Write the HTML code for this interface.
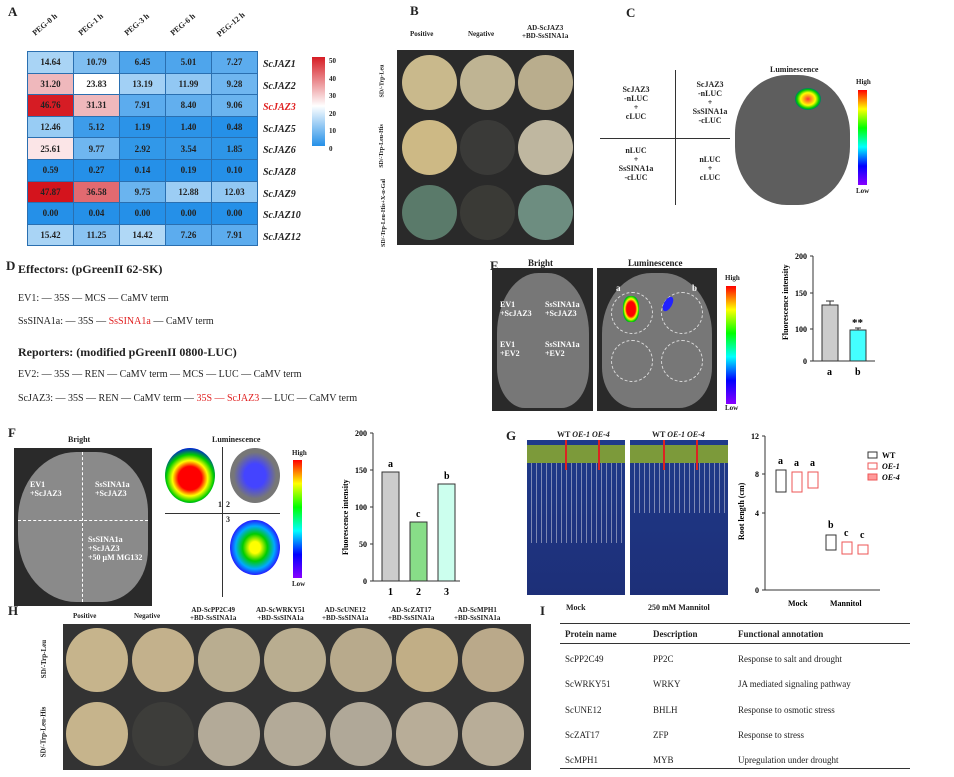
<!DOCTYPE html><html><head><meta charset="utf-8"><style>
body{margin:0;width:954px;height:777px;background:#fff;position:relative;overflow:hidden;font-family:"Liberation Serif",serif;font-weight:bold;color:#222}
div,span{position:absolute}
.L{font-size:13px;font-weight:bold}
.hm td{width:45px;height:20.6px;text-align:center;font-size:9px;border:1px solid #2a6fb0;padding:0}
.t{font-size:10px;white-space:nowrap}
.plate{border-radius:50%;}
.sq{background:#2a2a2a}
</style></head><body>
<span class="L" style="left:8px;top:4px">A</span>
<span class="t" style="left:30px;top:20px;transform:rotate(-40deg);font-size:8px">PEG-0 h</span>
<span class="t" style="left:76px;top:20px;transform:rotate(-40deg);font-size:8px">PEG-1 h</span>
<span class="t" style="left:122px;top:20px;transform:rotate(-40deg);font-size:8px">PEG-3 h</span>
<span class="t" style="left:168px;top:20px;transform:rotate(-40deg);font-size:8px">PEG-6 h</span>
<span class="t" style="left:214px;top:20px;transform:rotate(-40deg);font-size:8px">PEG-12 h</span>
<table class="hm" style="position:absolute;left:27px;top:51px;border-collapse:collapse">
<tr><td style="background:#a9d4f5">14.64</td><td style="background:#7fbef1">10.79</td><td style="background:#4ea5ec">6.45</td><td style="background:#4ea5ec">5.01</td><td style="background:#5cacee">7.27</td></tr>
<tr><td style="background:#efb8bc">31.20</td><td style="background:#fff">23.83</td><td style="background:#a2d0f5">13.19</td><td style="background:#92c8f3">11.99</td><td style="background:#6fb6f0">9.28</td></tr>
<tr><td style="background:#d61c24">46.76</td><td style="background:#efb8bc">31.31</td><td style="background:#5cacee">7.91</td><td style="background:#62afee">8.40</td><td style="background:#6ab4ef">9.06</td></tr>
<tr><td style="background:#98ccf4">12.46</td><td style="background:#3d9cea">5.12</td><td style="background:#2b93e8">1.19</td><td style="background:#2b93e8">1.40</td><td style="background:#2590e8">0.48</td></tr>
<tr><td style="background:#fbe5e7">25.61</td><td style="background:#6fb6f0">9.77</td><td style="background:#3198e9">2.92</td><td style="background:#3499e9">3.54</td><td style="background:#2d95e8">1.85</td></tr>
<tr><td style="background:#2590e8">0.59</td><td style="background:#2590e8">0.27</td><td style="background:#2590e8">0.14</td><td style="background:#2590e8">0.19</td><td style="background:#2590e8">0.10</td></tr>
<tr><td style="background:#d4141d">47.87</td><td style="background:#e26a70">36.58</td><td style="background:#6ab4ef">9.75</td><td style="background:#9ccdf4">12.88</td><td style="background:#92c8f3">12.03</td></tr>
<tr><td style="background:#2590e8">0.00</td><td style="background:#2590e8">0.04</td><td style="background:#2590e8">0.00</td><td style="background:#2590e8">0.00</td><td style="background:#2590e8">0.00</td></tr>
<tr><td style="background:#a9d4f5">15.42</td><td style="background:#8ac3f2">11.25</td><td style="background:#b0d8f6">14.42</td><td style="background:#5cacee">7.26</td><td style="background:#5cacee">7.91</td></tr>
</table>
<div style="left:263px;top:54px;font-style:italic;font-size:10px;line-height:21.6px">ScJAZ1<br>ScJAZ2<br><span style="position:static;color:#e02020">ScJAZ3</span><br>ScJAZ5<br>ScJAZ6<br>ScJAZ8<br>ScJAZ9<br>ScJAZ10<br>ScJAZ12</div>
<div style="left:312px;top:57px;width:13px;height:89px;background:linear-gradient(#d61c24,#fff 55%,#2590e8)"></div>
<div style="left:329px;top:53px;font-size:7px;line-height:17.5px">50<br>40<br>30<br>20<br>10<br>0</div>

<span class="L" style="left:410px;top:3px">B</span>
<span class="t" style="left:410px;top:30px;font-size:7px">Positive</span>
<span class="t" style="left:468px;top:30px;font-size:7px">Negative</span>
<span class="t" style="left:522px;top:24px;font-size:7px;text-align:center">AD-ScJAZ3<br>+BD-SsSINA1a</span>
<div class="sq" style="left:397px;top:50px;width:177px;height:195px"></div>
<div class="plate" style="left:402px;top:55px;width:55px;height:55px;background:#c9b98c"></div>
<div class="plate" style="left:460px;top:55px;width:55px;height:55px;background:#bfb493"></div>
<div class="plate" style="left:518px;top:55px;width:55px;height:55px;background:#b9ad8d"></div>
<div class="plate" style="left:402px;top:120px;width:55px;height:55px;background:#cdb985"></div>
<div class="plate" style="left:460px;top:120px;width:55px;height:55px;background:#3a3a38"></div>
<div class="plate" style="left:518px;top:120px;width:55px;height:55px;background:#bfb7a0"></div>
<div class="plate" style="left:402px;top:185px;width:55px;height:55px;background:#5a7a6a"></div>
<div class="plate" style="left:460px;top:185px;width:55px;height:55px;background:#3a3a36"></div>
<div class="plate" style="left:518px;top:185px;width:55px;height:55px;background:#6d8d80"></div>
<span class="t" style="left:366px;top:78px;font-size:6px;transform:rotate(-90deg)">SD/-Trp-Leu</span>
<span class="t" style="left:360px;top:143px;font-size:6px;transform:rotate(-90deg)">SD/-Trp-Leu-His</span>
<span class="t" style="left:350px;top:210px;font-size:6px;transform:rotate(-90deg)">SD/-Trp-Leu-His+X-α-Gal</span>

<span class="L" style="left:626px;top:5px">C</span>
<div style="left:675px;top:70px;width:1px;height:135px;background:#333"></div>
<div style="left:600px;top:138px;width:130px;height:1px;background:#333"></div>
<div class="t" style="left:600px;top:85px;font-size:8px;text-align:center;width:72px">ScJAZ3<br>-nLUC<br>+<br>cLUC</div>
<div class="t" style="left:680px;top:80px;font-size:8px;text-align:center;width:60px">ScJAZ3<br>-nLUC<br>+<br>SsSINA1a<br>-cLUC</div>
<div class="t" style="left:600px;top:146px;font-size:8px;text-align:center;width:72px">nLUC<br>+<br>SsSINA1a<br>-cLUC</div>
<div class="t" style="left:680px;top:155px;font-size:8px;text-align:center;width:60px">nLUC<br>+<br>cLUC</div>
<span class="t" style="left:770px;top:65px;font-size:8px">Luminescence</span>
<div style="left:735px;top:75px;width:115px;height:130px;border-radius:45%;background:#5e5e5e"></div>
<div style="left:795px;top:88px;width:26px;height:22px;border-radius:50%;background:radial-gradient(#f33,#ff0 40%,#0c0 60%,#00f 85%)"></div>
<div style="left:858px;top:90px;width:9px;height:95px;background:linear-gradient(#f00,#ff0,#0f0,#0ff,#00f,#80f)"></div>
<span class="t" style="left:856px;top:78px;font-size:7px">High</span>
<span class="t" style="left:856px;top:187px;font-size:7px">Low</span>

<span class="L" style="left:6px;top:258px">D</span>
<div class="t" style="left:18px;top:262px;font-size:12px">Effectors: (pGreenII 62-SK)</div>
<div class="t" style="left:18px;top:293px;font-size:10px;font-weight:normal">EV1: — 35S — MCS — CaMV term</div>
<div class="t" style="left:18px;top:316px;font-size:10px;font-weight:normal">SsSINA1a: — 35S — <span style="position:static;color:#e02020">SsSINA1a</span> — CaMV term</div>
<div class="t" style="left:18px;top:345px;font-size:12px">Reporters: (modified pGreenII 0800-LUC)</div>
<div class="t" style="left:18px;top:369px;font-size:10px;font-weight:normal">EV2: — 35S — REN — CaMV term — MCS — LUC — CaMV term</div>
<div class="t" style="left:18px;top:393px;font-size:10px;font-weight:normal">ScJAZ3: — 35S — REN — CaMV term — <span style="position:static;color:#e02020">35S — ScJAZ3</span> — LUC — CaMV term</div>

<span class="L" style="left:490px;top:258px">E</span>
<span class="t" style="left:528px;top:258px;font-size:9px">Bright</span>
<span class="t" style="left:628px;top:258px;font-size:9px">Luminescence</span>
<div class="sq" style="left:492px;top:268px;width:101px;height:143px"></div>
<div class="sq" style="left:597px;top:268px;width:120px;height:143px"></div>
<div style="left:497px;top:273px;width:92px;height:135px;border-radius:45% 45% 30% 30%;background:#777"></div>
<div style="left:602px;top:273px;width:110px;height:135px;border-radius:45% 45% 30% 30%;background:#777"></div>
<div class="t" style="left:500px;top:300px;font-size:8px;color:#fff">EV1<br>+ScJAZ3</div>
<div class="t" style="left:545px;top:300px;font-size:8px;color:#fff">SsSINA1a<br>+ScJAZ3</div>
<div class="t" style="left:500px;top:340px;font-size:8px;color:#fff">EV1<br>+EV2</div>
<div class="t" style="left:545px;top:340px;font-size:8px;color:#fff">SsSINA1a<br>+EV2</div>
<div style="left:611px;top:292px;width:40px;height:40px;border-radius:50%;border:1px dashed #ddd"></div>
<div style="left:661px;top:292px;width:40px;height:40px;border-radius:50%;border:1px dashed #ddd"></div>
<div style="left:611px;top:340px;width:40px;height:40px;border-radius:50%;border:1px dashed #ddd"></div>
<div style="left:661px;top:340px;width:40px;height:40px;border-radius:50%;border:1px dashed #ddd"></div>
<div style="left:623px;top:296px;width:16px;height:26px;border-radius:40%;background:radial-gradient(#f00 40%,#ff0 55%,#0c0 70%,#00f)"></div>
<div style="left:664px;top:296px;width:8px;height:16px;border-radius:50%;background:#22f;transform:rotate(30deg)"></div>
<span class="t" style="left:616px;top:283px;font-size:9px;color:#fff">a</span>
<span class="t" style="left:692px;top:283px;font-size:9px;color:#fff">b</span>
<div style="left:726px;top:286px;width:10px;height:118px;background:linear-gradient(#f00,#ff0,#0f0,#0ff,#00f,#80f)"></div>
<span class="t" style="left:725px;top:274px;font-size:7px">High</span>
<span class="t" style="left:725px;top:404px;font-size:7px">Low</span>
<svg style="position:absolute;left:770px;top:250px" width="120" height="160" font-family="Liberation Serif" font-weight="bold" font-size="8">
<path d="M43 6V111H105M40 6H43M40 43H43M40 79H43M40 111H43" stroke="#333" fill="none"/>
<text x="37" y="9" text-anchor="end">200</text><text x="37" y="46" text-anchor="end">150</text><text x="37" y="82" text-anchor="end">100</text><text x="37" y="114" text-anchor="end">0</text>
<rect x="52" y="55" width="16" height="56" fill="#ccc" stroke="#333"/><rect x="80" y="80" width="16" height="31" fill="#4ff" stroke="#333"/>
<path d="M60 55V51M56 51H64M88 80V78M85 78H91" stroke="#333"/>
<text x="82" y="76" font-size="11">**</text>
<text x="57" y="125" font-size="10">a</text><text x="85" y="125" font-size="10">b</text>
<text transform="translate(18,90) rotate(-90)" font-size="8">Fluorescence intensity</text>
</svg>

<span class="L" style="left:8px;top:425px">F</span>
<span class="t" style="left:68px;top:435px;font-size:8px">Bright</span>
<div class="sq" style="left:14px;top:448px;width:138px;height:158px"></div>
<div style="left:18px;top:452px;width:130px;height:150px;border-radius:45% 40% 35% 45%;background:#8a8a8a"></div>
<div style="left:82px;top:452px;width:1px;height:150px;border-left:1px dashed #fff"></div>
<div style="left:18px;top:520px;width:130px;border-top:1px dashed #fff"></div>
<div class="t" style="left:30px;top:480px;font-size:8px;color:#fff">EV1<br>+ScJAZ3</div>
<div class="t" style="left:95px;top:480px;font-size:8px;color:#fff">SsSINA1a<br>+ScJAZ3</div>
<div class="t" style="left:88px;top:535px;font-size:8px;color:#fff">SsSINA1a<br>+ScJAZ3<br>+50 μM MG132</div>
<span class="t" style="left:212px;top:435px;font-size:8px">Luminescence</span>
<div style="left:222px;top:447px;width:1px;height:150px;background:#333"></div>
<div style="left:165px;top:513px;width:115px;height:1px;background:#333"></div>
<div style="left:165px;top:448px;width:50px;height:55px;border-radius:50%;background:radial-gradient(circle at 50% 55%,#f00 30%,#ff0 45%,#0c0 60%,#00f 80%,#666 90%)"></div>
<div style="left:230px;top:448px;width:50px;height:55px;border-radius:50%;background:radial-gradient(#44f 30%,#777 60%)"></div>
<div style="left:230px;top:520px;width:50px;height:55px;border-radius:50%;background:radial-gradient(#ff0 15%,#0c0 35%,#0af 55%,#22f 70%,#666 85%)"></div>
<span class="t" style="left:218px;top:500px;font-size:8px">1</span><span class="t" style="left:226px;top:500px;font-size:8px">2</span><span class="t" style="left:226px;top:515px;font-size:8px">3</span>
<div style="left:293px;top:460px;width:9px;height:118px;background:linear-gradient(#f00,#ff0,#0f0,#0ff,#00f,#80f)"></div>
<span class="t" style="left:292px;top:449px;font-size:7px">High</span><span class="t" style="left:292px;top:580px;font-size:7px">Low</span>
<svg style="position:absolute;left:330px;top:425px" width="150" height="180" font-family="Liberation Serif" font-weight="bold" font-size="8">
<path d="M43 8V156H130M40 8H43M40 45H43M40 82H43M40 119H43M40 156H43" stroke="#333" fill="none"/>
<text x="37" y="11" text-anchor="end">200</text><text x="37" y="48" text-anchor="end">150</text><text x="37" y="85" text-anchor="end">100</text><text x="37" y="122" text-anchor="end">50</text><text x="37" y="159" text-anchor="end">0</text>
<rect x="52" y="47" width="17" height="109" fill="#ccc" stroke="#333"/><rect x="80" y="97" width="17" height="59" fill="#8d8" stroke="#333"/><rect x="108" y="59" width="17" height="97" fill="#cfe" stroke="#333"/>
<text x="58" y="42" font-size="10">a</text><text x="86" y="92" font-size="10">c</text><text x="114" y="54" font-size="10">b</text>
<text x="58" y="170" font-size="10">1</text><text x="86" y="170" font-size="10">2</text><text x="114" y="170" font-size="10">3</text>
<text transform="translate(18,130) rotate(-90)" font-size="8">Fluorescence intensity</text>
</svg>

<span class="L" style="left:506px;top:428px">G</span>
<span class="t" style="left:557px;top:430px;font-size:8px">WT <i>OE-1</i> <i>OE-4</i></span>
<span class="t" style="left:652px;top:430px;font-size:8px">WT <i>OE-1</i> <i>OE-4</i></span>
<div style="left:527px;top:440px;width:98px;height:155px;background:linear-gradient(#1f3a8a,#1d2f78)"></div>
<div style="left:630px;top:440px;width:98px;height:155px;background:linear-gradient(#1f3a8a,#1d2f78)"></div>
<div style="left:527px;top:445px;width:98px;height:18px;background:#7c9a3a"></div>
<div style="left:630px;top:445px;width:98px;height:18px;background:#7c9a3a"></div>
<div style="left:527px;top:463px;width:98px;height:80px;background:repeating-linear-gradient(90deg,transparent 0 4px,rgba(220,220,230,.5) 4px 5px)"></div>
<div style="left:630px;top:463px;width:98px;height:50px;background:repeating-linear-gradient(90deg,transparent 0 4px,rgba(220,220,230,.5) 4px 5px)"></div>
<div style="left:565px;top:440px;width:2px;height:30px;background:#d22"></div><div style="left:598px;top:440px;width:2px;height:30px;background:#d22"></div>
<div style="left:663px;top:440px;width:2px;height:30px;background:#d22"></div><div style="left:696px;top:440px;width:2px;height:30px;background:#d22"></div>
<span class="t" style="left:566px;top:603px;font-size:8px">Mock</span>
<span class="t" style="left:648px;top:603px;font-size:8px">250 mM Mannitol</span>
<svg style="position:absolute;left:730px;top:430px" width="200" height="180" font-family="Liberation Serif" font-weight="bold" font-size="8">
<path d="M35 6V160H150M32 6H35M32 83H35M32 160H35" stroke="#333" fill="none"/>
<text x="29" y="9" text-anchor="end">12</text><text x="29" y="86" text-anchor="end">4</text><text x="29" y="163" text-anchor="end">0</text>
<text x="29" y="47" text-anchor="end">8</text><path d="M32 44H35" stroke="#333"/>
<rect x="46" y="40" width="10" height="22" fill="none" stroke="#333"/><rect x="62" y="42" width="10" height="20" fill="none" stroke="#e55"/><rect x="78" y="42" width="10" height="16" fill="none" stroke="#e55"/>
<rect x="96" y="105" width="10" height="15" fill="none" stroke="#333"/><rect x="112" y="112" width="10" height="12" fill="none" stroke="#e55"/><rect x="128" y="115" width="10" height="9" fill="none" stroke="#e55"/>
<text x="48" y="34" font-size="10">a</text><text x="64" y="36" font-size="10">a</text><text x="80" y="36" font-size="10">a</text>
<text x="98" y="98" font-size="10">b</text><text x="114" y="106" font-size="10">c</text><text x="130" y="108" font-size="10">c</text>
<text x="58" y="176">Mock</text><text x="100" y="176">Mannitol</text>
<text transform="translate(14,110) rotate(-90)">Root length (cm)</text>
<rect x="138" y="22" width="9" height="6" fill="none" stroke="#333"/><text x="152" y="28">WT</text>
<rect x="138" y="33" width="9" height="6" fill="none" stroke="#e55"/><text x="152" y="39" font-style="italic">OE-1</text>
<rect x="138" y="44" width="9" height="6" fill="#f99" stroke="#e55"/><text x="152" y="50" font-style="italic">OE-4</text>
</svg>

<span class="L" style="left:8px;top:603px">H</span>
<div class="sq" style="left:63px;top:624px;width:468px;height:146px;background:#333"></div>
<div style="left:30px;top:612px;width:520px;font-size:7px">
<span style="left:43px;top:0">Positive</span><span style="left:104px;top:0">Negative</span>
<span style="left:160px;top:-6px;text-align:center">AD-ScPP2C49<br>+BD-SsSINA1a</span>
<span style="left:226px;top:-6px;text-align:center">AD-ScWRKY51<br>+BD-SsSINA1a</span>
<span style="left:292px;top:-6px;text-align:center">AD-ScUNE12<br>+BD-SsSINA1a</span>
<span style="left:358px;top:-6px;text-align:center">AD-ScZAT17<br>+BD-SsSINA1a</span>
<span style="left:424px;top:-6px;text-align:center">AD-ScMPH1<br>+BD-SsSINA1a</span></div>
<div class="plate" style="left:66px;top:628px;width:62px;height:64px;background:#c6b48c"></div>
<div class="plate" style="left:132px;top:628px;width:62px;height:64px;background:#c3b18c"></div>
<div class="plate" style="left:198px;top:628px;width:62px;height:64px;background:#b9ad90"></div>
<div class="plate" style="left:264px;top:628px;width:62px;height:64px;background:#b9ad90"></div>
<div class="plate" style="left:330px;top:628px;width:62px;height:64px;background:#b8aa8c"></div>
<div class="plate" style="left:396px;top:628px;width:62px;height:64px;background:#c1ae86"></div>
<div class="plate" style="left:462px;top:628px;width:62px;height:64px;background:#baa98a"></div>
<div class="plate" style="left:66px;top:702px;width:62px;height:64px;background:#c6b48c"></div>
<div class="plate" style="left:132px;top:702px;width:62px;height:64px;background:#3d3d3a"></div>
<div class="plate" style="left:198px;top:702px;width:62px;height:64px;background:#b3aa98"></div>
<div class="plate" style="left:264px;top:702px;width:62px;height:64px;background:#b3aa98"></div>
<div class="plate" style="left:330px;top:702px;width:62px;height:64px;background:#b0a898"></div>
<div class="plate" style="left:396px;top:702px;width:62px;height:64px;background:#b8ad98"></div>
<div class="plate" style="left:462px;top:702px;width:62px;height:64px;background:#b8ad98"></div>
<span class="t" style="left:25px;top:655px;font-size:7px;transform:rotate(-90deg)">SD/-Trp-Leu</span>
<span class="t" style="left:18px;top:728px;font-size:7px;transform:rotate(-90deg)">SD/-Trp-Leu-His</span>

<span class="L" style="left:540px;top:603px">I</span>
<div style="left:560px;top:623px;width:350px;border-top:1px solid #333"></div>
<div style="left:560px;top:643px;width:350px;border-top:1px solid #333"></div>
<div style="left:560px;top:768px;width:350px;border-top:1px solid #333"></div>
<div class="t" style="left:565px;top:627px;font-size:9px;line-height:25.3px"><span style="position:static;display:block;line-height:14px;margin-bottom:6px">Protein name</span><span style="position:static;font-weight:normal">ScPP2C49<br>ScWRKY51<br>ScUNE12<br>ScZAT17<br>ScMPH1</span></div>
<div class="t" style="left:653px;top:627px;font-size:9px;line-height:25.3px"><span style="position:static;display:block;line-height:14px;margin-bottom:6px">Description</span><span style="position:static;font-weight:normal">PP2C<br>WRKY<br>BHLH<br>ZFP<br>MYB</span></div>
<div class="t" style="left:738px;top:627px;font-size:9px;line-height:25.3px"><span style="position:static;display:block;line-height:14px;margin-bottom:6px">Functional annotation</span><span style="position:static;font-weight:normal">Response to salt and drought<br>JA mediated signaling pathway<br>Response to osmotic stress<br>Response to stress<br>Upregulation under drought</span></div>
</body></html>
